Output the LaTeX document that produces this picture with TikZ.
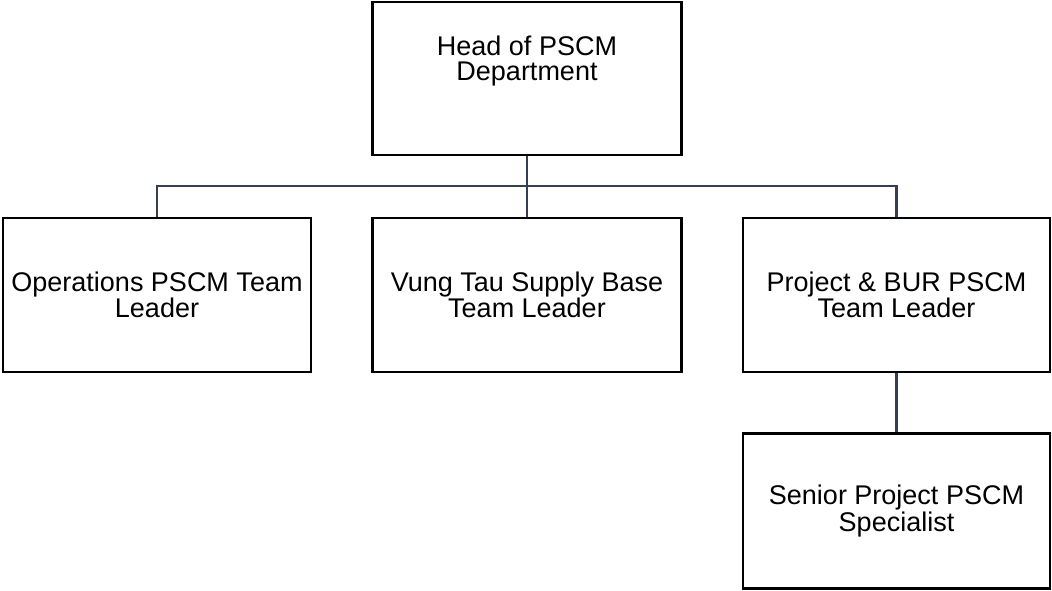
\documentclass[tikz,border=0pt]{standalone}
\usepackage{fontspec}
\setmainfont{Liberation Sans}
\begin{document}
\begin{tikzpicture}[x=1pt,y=-1pt,
  txt/.style={inner sep=0pt, align=center, font=\fontsize{27}{25}\selectfont},
  box/.style={txt, draw=black, line width=2.4pt, fill=white},
  link/.style={draw={rgb,255:red,52;green,64;blue,82}, line width=2.4pt}]
\useasboundingbox (0,0) rectangle (1052,591);
\node[box, minimum width=309pt, minimum height=153pt] (head) at (527,78.5) {};
\node[txt] (headtxt) at (527,61) {Head of PSCM\\Department};
\node[box, minimum width=308pt, minimum height=154pt] (ops) at (157,295) {Operations PSCM Team\\Leader};
\node[box, minimum width=309pt, minimum height=154pt] (vung) at (527,295) {Vung Tau Supply Base\\Team Leader};
\node[box, minimum width=307pt, minimum height=154pt] (proj) at (896.5,295) {Project \& BUR PSCM\\Team Leader};
\node[box, minimum width=307pt, minimum height=155pt] (sen) at (896.5,511) {Senior Project PSCM\\Specialist};
\coordinate (bus) at (527,186);
\draw[link] (head.south) -- (vung.north);
\draw[link] (ops.north) |- (bus);
\draw[link] (proj.north) |- (bus);
\draw[link] (proj.south) -- (sen.north);
\end{tikzpicture}
\end{document}
